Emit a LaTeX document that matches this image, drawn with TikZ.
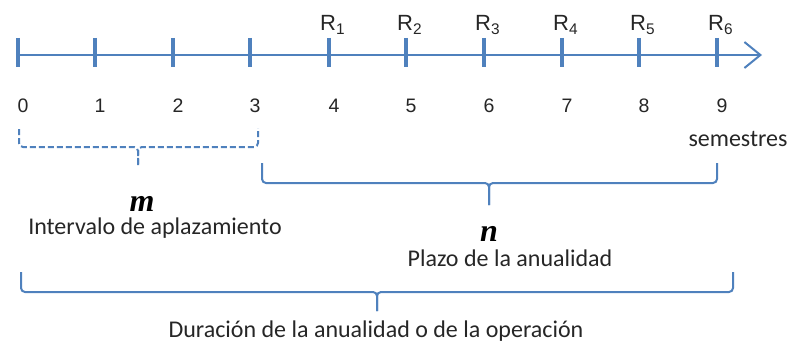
\documentclass[tikz,border=0pt]{standalone}
\usepackage{fontspec}
\setmainfont{Carlito}
\newfontfamily\arialf{Liberation Sans}
\newfontfamily\timesf{Liberation Serif}
\usetikzlibrary{arrows.meta}
\definecolor{ob}{HTML}{4F81BD}
\definecolor{tx}{HTML}{262626}
\tikzset{
  axisline/.style={draw=ob,line width=2.2pt},
  tickline/.style={draw=ob,line width=3.3pt},
  brace/.style={draw=ob,line width=2pt,rounded corners=4pt},
  dbrace/.style={brace,dash pattern=on 6pt off 3pt},
  num/.style={text=tx,font=\arialf\fontsize{19.5}{19.5}\selectfont,anchor=base,inner sep=0pt},
  rlab/.style={text=tx,font=\arialf\fontsize{22}{22}\selectfont,anchor=base west,inner sep=0pt},
  lab/.style={text=tx,font=\fontsize{24}{24}\selectfont,anchor=base,inner sep=0pt},
  var/.style={text=black,font=\timesf\bfseries\itshape\fontsize{32}{32}\selectfont,anchor=base,inner sep=0pt}
}
\begin{document}
\begin{tikzpicture}[x=1pt,y=-1pt]
\useasboundingbox (0,0) rectangle (791,342);
% axis
\coordinate (a0) at (16,55);
\coordinate (a1) at (762,55);
\draw[axisline,-{Straight Barb[length=16pt,width=26pt,line width=2pt]}] (a0) -- (a1);
\foreach \x/\k in {18/0,95/1,173/2,250/3,329/4,406/5,484/6,562/7,639/8,717/9}{
  \draw[tickline] (\x,38) -- (\x,67);
  \node[num] (n\k) at (\x+5,113) {\k};
}
\foreach \x/\k in {329/1,406/2,484/3,562/4,639/5,717/6}{
  \node[rlab] (r\k) at (\x-9,31) {R\textsubscript{\k}};
}
\node[lab] (sem) at (738,146) {semestres};
% dashed brace m
\draw[dbrace] (19,129) |- (138,147) -- (138,165);
\draw[dbrace] (138,165) -- (138,147) -| (258,128);
% brace n
\draw[brace] (262,163) |- (489,183) -- (489,205);
\draw[brace] (489,205) -- (489,183) -| (717,163);
% big brace
\draw[brace] (21,272) |- (377,292) -- (377,311);
\draw[brace] (377,311) -- (377,292) -| (733,272);
% labels
\node[var] (m) at (142,211) {m};
\node[lab] (int) at (155,234) {Intervalo de aplazamiento};
\node[var] (nn) at (489,241) {n};
\node[lab] (pla) at (510,266) {Plazo de la anualidad};
\node[lab] (dur) at (376,337) {Duración de la anualidad o de la operación};
\end{tikzpicture}
\end{document}
